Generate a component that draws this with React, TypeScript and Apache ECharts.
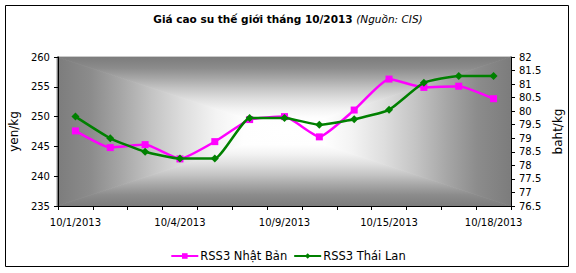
import React, { useEffect, useRef } from "react";
import * as echarts from "echarts";

const categories = [
  "10/1/2013", "10/2/2013", "10/3/2013", "10/4/2013", "10/7/2013",
  "10/8/2013", "10/9/2013", "10/10/2013", "10/11/2013", "10/15/2013",
  "10/16/2013", "10/17/2013", "10/18/2013",
];
const japanYen = [247.6, 244.8, 245.3, 242.9, 245.8, 249.5, 250.0, 246.6, 251.1, 256.3, 254.9, 255.1, 253.0];
const thaiBaht = [79.8, 79.0, 78.5, 78.25, 78.25, 79.75, 79.75, 79.5, 79.7, 80.05, 81.05, 81.3, 81.3];
const seriesNames = ["RSS3 Nhật Bản", "RSS3 Thái Lan"];
const leftAxis = { min: 235, max: 260, interval: 5, name: "yen/kg" };
const rightAxis = { min: 76.5, max: 82, interval: 0.5, name: "baht/kg" };

const FONT = "DejaVu Sans";

export default function App() {
  const ref = useRef<HTMLDivElement>(null);
  useEffect(() => {
    if (!ref.current) return;
    const chart = echarts.init(ref.current, null, { renderer: "svg" });
    const W = 576, H = 273;
    const g = { left: 57, top: 57, right: 65, bottom: 67 };
    const x0 = g.left, y0 = g.top, x1 = W - g.right, y1 = H - g.bottom;
    const cx = (x0 + x1) / 2, cy = (y0 + y1) / 2;
    const stops = [
      { offset: 0, color: "#7c7c7c" },
      { offset: 0.15, color: "#8c8c8c" },
      { offset: 0.28, color: "#a6a6a6" },
      { offset: 0.42, color: "#c4c4c4" },
      { offset: 0.56, color: "#dedede" },
      { offset: 0.7, color: "#f3f3f3" },
      { offset: 0.82, color: "#fefefe" },
      { offset: 1, color: "#ffffff" },
    ];
    const grad = (x: number, y: number, x2: number, y2: number) => ({
      type: "linear", x, y, x2, y2, colorStops: stops,
    });
    const tri = (pts: number[][], gr: any) => ({
      type: "polygon",
      z: -10,
      silent: true,
      shape: { points: pts },
      style: { fill: gr, stroke: gr, lineWidth: 0.8 },
    });
    const axisText = { color: "#000", fontSize: 10, fontFamily: FONT };
    chart.setOption({
      animation: false,
      title: {
        left: "center",
        top: 8,
        text: "{b|Giá cao su thế giới tháng 10/2013 }{i|(Nguồn: CIS)}",
        textStyle: {
          rich: {
            b: { fontFamily: FONT, fontWeight: "bold", fontSize: 10.5, color: "#000" },
            i: { fontFamily: FONT, fontStyle: "italic", fontWeight: "normal", fontSize: 10.5, color: "#000" },
          },
        },
      },
      legend: {
        data: seriesNames,
        left: "center",
        top: 245,
        itemWidth: 27,
        itemHeight: 7,
        itemGap: 6,
        textStyle: { color: "#000", fontSize: 11.5, fontFamily: FONT, padding: [0, 0, 0, -3] },
      },
      grid: { left: g.left, top: g.top, right: g.right, bottom: g.bottom },
      graphic: [
        tri([[x0, y0], [x1, y0], [cx, cy]], grad(0, 0, 0, 1)),
        tri([[x0, y1], [x1, y1], [cx, cy]], grad(0, 1, 0, 0)),
        tri([[x0, y0], [x0, y1], [cx, cy]], grad(0, 0, 1, 0)),
        tri([[x1, y0], [x1, y1], [cx, cy]], grad(1, 0, 0, 0)),
        {
          type: "rect",
          z: 100,
          silent: true,
          shape: { x: 5.5, y: 5.5, width: 563, height: 261 },
          style: { fill: "none", stroke: "#000", lineWidth: 1 },
        },
      ],
      xAxis: {
        type: "category",
        data: categories,
        boundaryGap: true,
        z: 3,
        axisLine: { show: true, lineStyle: { color: "#000", width: 1 } },
        axisTick: { show: true, interval: 0, length: 4, lineStyle: { color: "#000" } },
        axisLabel: { ...axisText, interval: 2, margin: 11 },
        splitLine: { show: false },
      },
      yAxis: [
        {
          type: "value",
          position: "left",
          min: leftAxis.min,
          max: leftAxis.max,
          interval: leftAxis.interval,
          name: leftAxis.name,
          nameLocation: "middle",
          nameRotate: 90,
          nameGap: 36,
          nameTextStyle: { color: "#000", fontSize: 12, fontFamily: FONT },
          z: 3,
          axisLine: { show: true, lineStyle: { color: "#000", width: 1 } },
          axisTick: { show: true, length: 4, lineStyle: { color: "#000" } },
          axisLabel: { ...axisText, margin: 8 },
          splitLine: { show: false },
        },
        {
          type: "value",
          position: "right",
          min: rightAxis.min,
          max: rightAxis.max,
          interval: rightAxis.interval,
          name: rightAxis.name,
          nameLocation: "middle",
          nameRotate: 90,
          nameGap: 38,
          nameTextStyle: { color: "#000", fontSize: 12, fontFamily: FONT },
          z: 3,
          axisLine: { show: true, lineStyle: { color: "#000", width: 1 } },
          axisTick: { show: true, length: 4, lineStyle: { color: "#000" } },
          axisLabel: { ...axisText, margin: 8 },
          splitLine: { show: false },
        },
      ],
      series: [
        {
          name: seriesNames[0],
          type: "line",
          yAxisIndex: 0,
          data: japanYen,
          smooth: 0.15,
          symbol: "rect",
          symbolSize: 7,
          z: 4,
          lineStyle: { color: "#FF00FF", width: 2.5 },
          itemStyle: { color: "#FF00FF" },
        },
        {
          name: seriesNames[1],
          type: "line",
          yAxisIndex: 1,
          data: thaiBaht,
          smooth: 0.15,
          symbol: "diamond",
          symbolSize: 8,
          z: 5,
          lineStyle: { color: "#008000", width: 2.5 },
          itemStyle: { color: "#008000" },
        },
      ],
    });
    return () => chart.dispose();
  }, []);
  return (
    <div
      ref={ref}
      style={{ position: "fixed", left: 0, top: 0, width: 576, height: 273, background: "#fff" }}
    />
  );
}
